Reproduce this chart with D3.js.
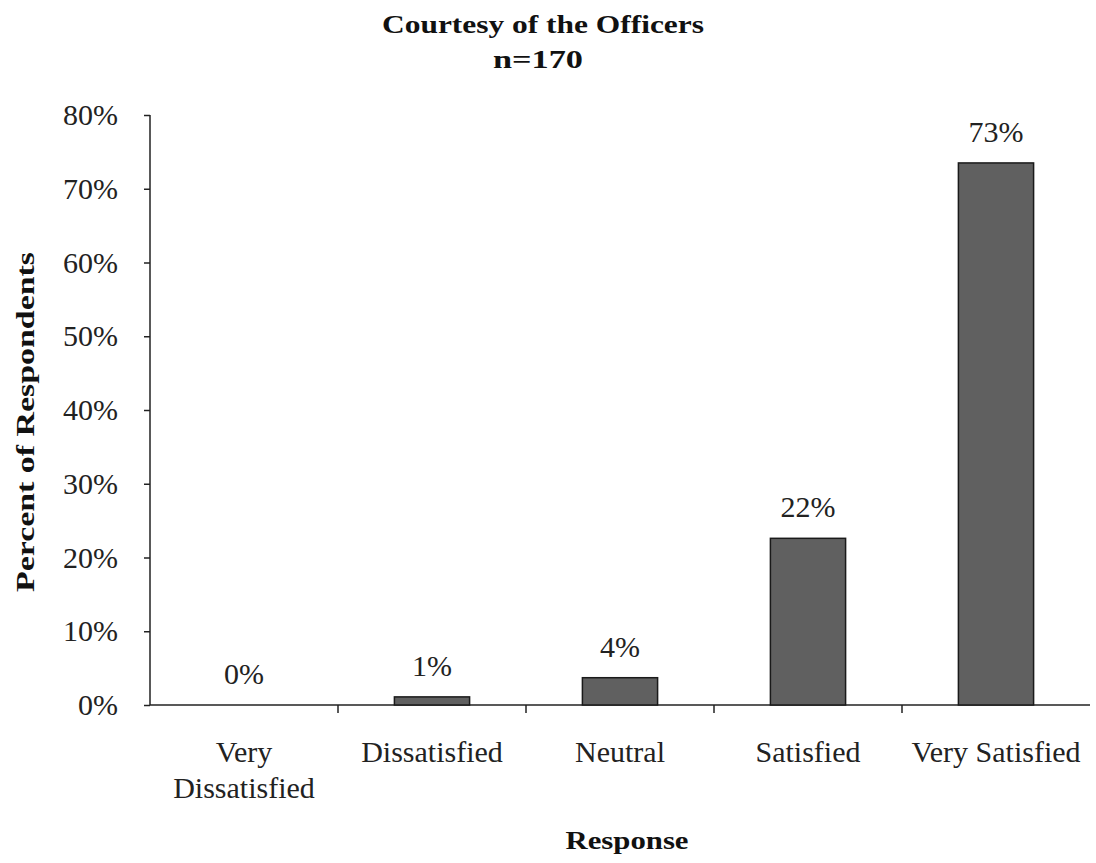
<!doctype html>
<html>
<head>
<title>Courtesy of the Officers</title>
<script src="https://d3js.org/d3.v7.min.js"></script>
<style>
body { margin: 0; background: #fff; }
svg text { font-family: "Liberation Serif", "Times New Roman", serif; fill: #111; }
.title { font-size: 26px; font-weight: bold; }
.axis text { font-size: 30px; fill: #222; }
.axis path, .axis line { stroke: #222; stroke-width: 1.5px; fill: none; }
.lbl { font-size: 30px; fill: #222; }
.axtitle { font-size: 26px; font-weight: bold; }
</style>
</head>
<body>
<svg width="1096" height="863"></svg>
<script>
var categories = [["Very", "Dissatisfied"], ["Dissatisfied"], ["Neutral"], ["Satisfied"], ["Very Satisfied"]];
var values = [0, 1.1, 3.7, 22.6, 73.5];
var valueLabels = ["0%", "1%", "4%", "22%", "73%"];
var yTicks = [0, 10, 20, 30, 40, 50, 60, 70, 80];

var svg = d3.select("svg"),
    margin = {top: 115, right: 6, bottom: 158, left: 150},
    width = +svg.attr("width") - margin.left - margin.right,
    height = +svg.attr("height") - margin.top - margin.bottom;

var keys = categories.map(function(c) { return c.join(" "); });

var x = d3.scaleBand().domain(keys).range([0, width]).paddingInner(0.6).paddingOuter(0.3),
    xb = d3.scaleBand().domain(keys).range([0, width]),
    y = d3.scaleLinear().domain([0, 80]).range([height, 0]);

var g = svg.append("g").attr("transform", "translate(" + margin.left + "," + margin.top + ")");

// y axis
var ya = g.append("g").attr("class", "axis")
    .call(d3.axisLeft(y).tickValues(yTicks).tickSize(6).tickPadding(26).tickFormat(function(d) { return d + "%"; }));
ya.select(".domain").attr("d", "M0," + y(80) + "V" + y(0));

// x axis line and boundary ticks
var xa = g.append("g").attr("class", "axis").attr("transform", "translate(0," + height + ")");
xa.append("line").attr("x1", 0).attr("x2", width);
xa.selectAll(".tk").data(keys.slice(1)).enter().append("line")
    .attr("class", "tk")
    .attr("x1", function(d) { return xb(d); }).attr("x2", function(d) { return xb(d); })
    .attr("y1", 0).attr("y2", 8);

// category labels
xa.selectAll(".cat").data(categories).enter().append("text")
    .attr("class", "cat")
    .attr("text-anchor", "middle")
    .attr("y", 57)
    .selectAll("tspan").data(function(d) { return d; }).enter().append("tspan")
    .attr("x", function() { var p = this.parentNode.__data__; return xb(p.join(" ")) + xb.bandwidth() / 2; })
    .attr("dy", function(d, i) { return i ? 36 : 0; })
    .text(function(d) { return d; });

// bars
g.selectAll(".bar").data(values).enter().append("rect")
    .attr("class", "bar")
    .attr("x", function(d, i) { return x(keys[i]); })
    .attr("y", function(d) { return y(d); })
    .attr("width", x.bandwidth())
    .attr("height", function(d) { return height - y(d); })
    .attr("fill", "#606060")
    .attr("stroke", "#1a1a1a")
    .attr("stroke-width", 1.5);

// value labels
g.selectAll(".lbl").data(values).enter().append("text")
    .attr("class", "lbl")
    .attr("text-anchor", "middle")
    .attr("x", function(d, i) { return x(keys[i]) + x.bandwidth() / 2; })
    .attr("y", function(d) { return y(d) - 21; })
    .text(function(d, i) { return valueLabels[i]; });

// titles (bold text in the original is drawn wide)
function wide(t, len) {
  return t.attr("textLength", len).attr("lengthAdjust", "spacingAndGlyphs");
}
wide(svg.append("text").attr("class", "title").attr("text-anchor", "middle")
    .attr("x", 543).attr("y", 33).text("Courtesy of the Officers"), 322);
wide(svg.append("text").attr("class", "title").attr("text-anchor", "middle")
    .attr("x", 538).attr("y", 68).text("n=170"), 90);

wide(svg.append("text").attr("class", "axtitle").attr("text-anchor", "middle")
    .attr("transform", "translate(34,422) rotate(-90)")
    .text("Percent of Respondents"), 340);

wide(svg.append("text").attr("class", "axtitle").attr("text-anchor", "middle")
    .attr("x", 627).attr("y", 849).text("Response"), 123);
</script>
</body>
</html>
